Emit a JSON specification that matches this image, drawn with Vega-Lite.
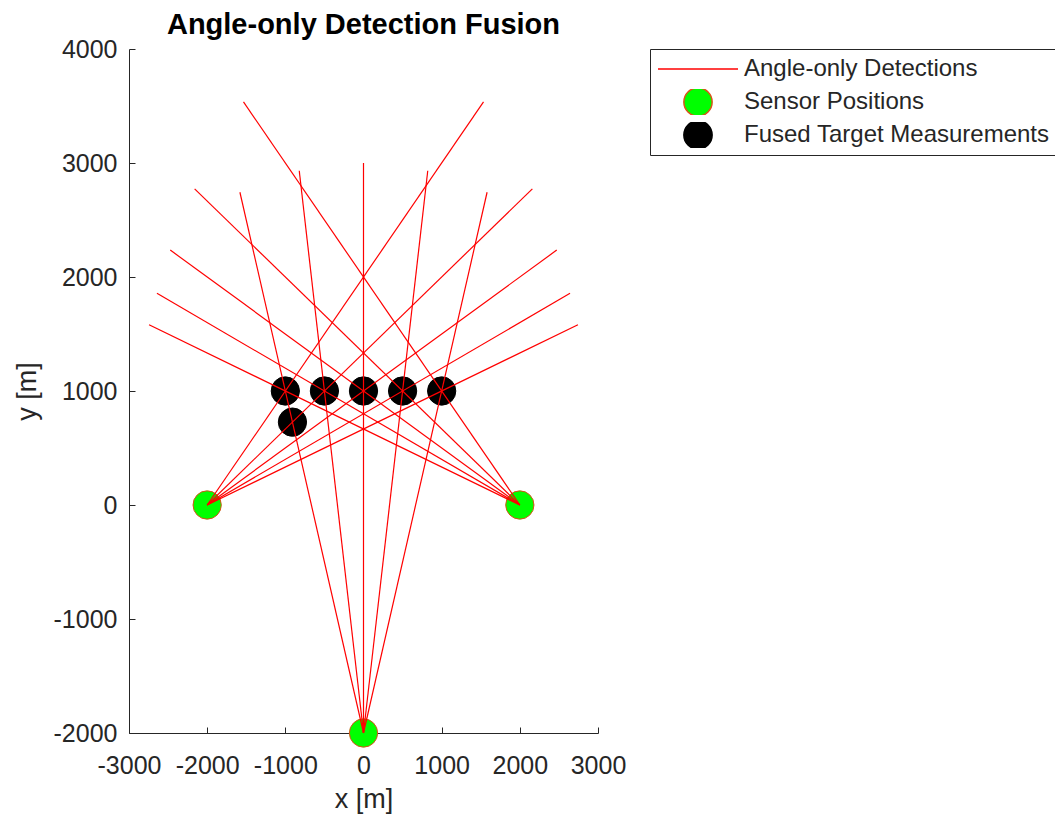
{
  "$schema": "https://vega.github.io/schema/vega-lite/v6.json",
  "width": 469,
  "height": 684,
  "autosize": {"type": "none"},
  "padding": {"left": 129, "top": 49, "right": 457, "bottom": 86},
  "background": "#ffffff",
  "title": {
    "text": "Angle-only Detection Fusion",
    "font": "Liberation Sans",
    "fontSize": 29,
    "fontWeight": "bold",
    "color": "#000000",
    "anchor": "middle",
    "frame": "group",
    "offset": -3
  },
  "config": {
    "view": {"stroke": null},
    "font": "Liberation Sans",
    "axis": {
      "grid": false,
      "domainColor": "#262626",
      "domainWidth": 1,
      "tickColor": "#262626",
      "tickWidth": 1,
      "tickSize": -6,
      "labelColor": "#262626",
      "labelFont": "Liberation Sans",
      "labelFontSize": 25,
      "labelFlush": false,
      "labelOverlap": false,
      "labelExpr": "'' + datum.value",
      "titleColor": "#262626",
      "titleFont": "Liberation Sans",
      "titleFontSize": 27,
      "titleFontWeight": "normal"
    }
  },
  "datasets": {
    "points": [
      {"x": -2000, "y": 0, "series": "Sensor Positions"},
      {"x": 2000, "y": 0, "series": "Sensor Positions"},
      {"x": 0, "y": -2000, "series": "Sensor Positions"},
      {"x": -1000, "y": 1000, "series": "Fused Target Measurements"},
      {"x": -500, "y": 1000, "series": "Fused Target Measurements"},
      {"x": 0, "y": 1000, "series": "Fused Target Measurements"},
      {"x": 500, "y": 1000, "series": "Fused Target Measurements"},
      {"x": 1000, "y": 1000, "series": "Fused Target Measurements"},
      {"x": -909, "y": 727, "series": "Fused Target Measurements"}
    ],
    "lines": [
      {"x": 0, "y": -2000, "x2": -1581.1, "y2": 2743.4},
      {"x": 0, "y": -2000, "x2": -822.0, "y2": 2932.0},
      {"x": 0, "y": -2000, "x2": 0, "y2": 3000},
      {"x": 0, "y": -2000, "x2": 822.0, "y2": 2932.0},
      {"x": 0, "y": -2000, "x2": 1581.1, "y2": 2743.4},
      {"x": -2000, "y": 0, "x2": 1535.5, "y2": 3535.5},
      {"x": -2000, "y": 0, "x2": 2160.3, "y2": 2773.5},
      {"x": -2000, "y": 0, "x2": 2472.1, "y2": 2236.1},
      {"x": -2000, "y": 0, "x2": 2642.4, "y2": 1857.0},
      {"x": -2000, "y": 0, "x2": 2743.4, "y2": 1581.1},
      {"x": 2000, "y": 0, "x2": -1535.5, "y2": 3535.5},
      {"x": 2000, "y": 0, "x2": -2160.3, "y2": 2773.5},
      {"x": 2000, "y": 0, "x2": -2472.1, "y2": 2236.1},
      {"x": 2000, "y": 0, "x2": -2642.4, "y2": 1857.0},
      {"x": 2000, "y": 0, "x2": -2743.4, "y2": 1581.1}
    ]
  },
  "layer": [
    {
      "data": {"name": "points"},
      "mark": {"type": "point", "filled": true, "opacity": 1, "strokeWidth": 1},
      "encoding": {
        "x": {
          "field": "x", "type": "quantitative",
          "scale": {"domain": [-3000, 3000], "nice": false, "zero": false},
          "axis": {"title": "x [m]", "values": [-3000, -2000, -1000, 0, 1000, 2000, 3000], "labelPadding": 26, "titlePadding": 8}
        },
        "y": {
          "field": "y", "type": "quantitative",
          "scale": {"domain": [-2000, 4000], "nice": false, "zero": false},
          "axis": {"title": "y [m]", "values": [-2000, -1000, 0, 1000, 2000, 3000, 4000], "labelPadding": 18, "titlePadding": 12}
        },
        "color": {
          "field": "series", "type": "nominal",
          "scale": {"domain": ["Angle-only Detections", "Sensor Positions", "Fused Target Measurements"], "range": ["#FF0000", "#00FF00", "#000000"]},
          "legend": {
            "title": null,
            "orient": "right",
            "offset": 52,
            "padding": 7,
            "strokeColor": "#262626",
            "fillColor": "#ffffff",
            "cornerRadius": 0,
            "labelFont": "Liberation Sans",
            "labelFontSize": 24,
            "labelColor": "#262626",
            "labelLimit": 400,
            "labelOffset": 5,
            "clipHeight": 26,
            "rowPadding": 7,
            "symbolOffset": 0,
            "encode": {
              "symbols": {
                "update": {
                  "size": {"signal": "datum.value === 'Angle-only Detections' ? 6400 : 460"},
                  "strokeWidth": {"signal": "datum.value === 'Angle-only Detections' ? 1.5 : 1"}
                }
              }
            }
          }
        },
        "stroke": {
          "field": "series", "type": "nominal",
          "scale": {"domain": ["Angle-only Detections", "Sensor Positions", "Fused Target Measurements"], "range": ["#FF0000", "#D95319", "#000000"]}
        },
        "shape": {
          "field": "series", "type": "nominal",
          "scale": {"domain": ["Angle-only Detections", "Sensor Positions", "Fused Target Measurements"], "range": ["stroke", "circle", "circle"]}
        },
        "size": {
          "field": "series", "type": "nominal",
          "scale": {"type": "ordinal", "domain": ["Angle-only Detections", "Sensor Positions", "Fused Target Measurements"], "range": [6400, 800, 800]}
        }
      }
    },
    {
      "data": {"name": "lines"},
      "mark": {"type": "rule", "stroke": "#FF0000", "color": "#FF0000", "strokeWidth": 1.2},
      "encoding": {
        "x": {"field": "x", "type": "quantitative", "title": "x [m]"},
        "y": {"field": "y", "type": "quantitative", "title": "y [m]"},
        "x2": {"field": "x2"},
        "y2": {"field": "y2"}
      }
    }
  ]
}
